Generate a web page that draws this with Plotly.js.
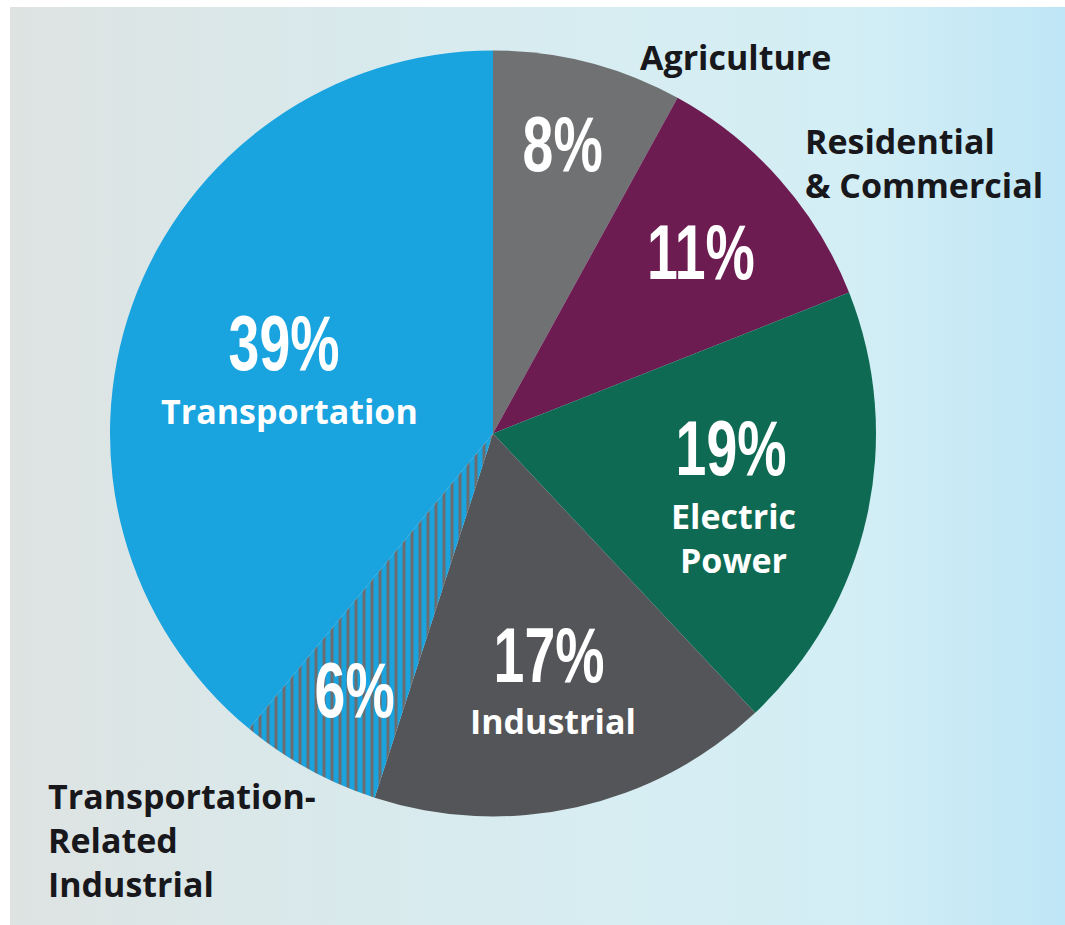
<!DOCTYPE html>
<html>
<head>
<meta charset="utf-8">
<script src="https://cdn.plot.ly/plotly-3.0.1.min.js"></script>
<style>
  html, body { margin: 0; padding: 0; background: #ffffff; width: 1065px; height: 925px; overflow: hidden; }
  #bg { position: absolute; left: 10px; top: 7px; right: 0; bottom: 0;
        background: linear-gradient(to right, #dee3e2 0%, #d9e9eb 30%, #d7edf2 55%, #d3eef5 80%, #bfe6f6 100%); }
  #chart { position: absolute; left: 0; top: 0; width: 1065px; height: 925px; }
  .condensed text { transform-box: fill-box; transform-origin: 50% 50%; transform: scaleX(0.72); }
</style>
</head>
<body>
<div id="bg"></div>
<div id="chart"></div>
<script>
// Data
const sectors = ["Agriculture", "Residential & Commercial", "Electric Power", "Industrial", "Transportation-Related Industrial", "Transportation"];
const shares = [8, 11, 19, 17, 6, 39];
const sliceColors = ["#707172", "#6d1c52", "#0e6a52", "#545558", "#19a3df", "#19a3df"];
const slicePatterns = ["", "", "", "", "|", ""];
const insideNames = ["", "", "Electric<br>Power", "Industrial", "", "Transportation"];
const outsideNames = ["Agriculture", "Residential<br>& Commercial", "", "", "Transportation-<br>Related<br>Industrial", ""];

const W = 1065, H = 925;
const px = v => v / W;
const py = v => 1 - v / H;

// positions of labels (pixels)
const pctPos = [[562, 144], [701, 252], [731, 448], [549, 655], [354, 690], [284, 343]];
const namePos = [null, null, [733, 538], [553, 721], null, [289, 411]];
const outsidePos = [[638, 57], [803, 163], null, null, [46, 840], null];

const pctFont = { family: "Liberation Sans, Arial, sans-serif", size: 77, color: "#ffffff", weight: 700 };
const nameFont = { family: "Open Sans, sans-serif", size: 34, color: "#ffffff", weight: 700 };
const outFont = { family: "Open Sans, sans-serif", size: 34, color: "#17171c", weight: 700 };

const annotations = [];
const pctIdx = [];
shares.forEach((v, i) => {
  pctIdx.push(annotations.length);
  annotations.push({
    text: v + "%", xref: "paper", yref: "paper",
    x: px(pctPos[i][0]), y: py(pctPos[i][1]),
    xanchor: "center", yanchor: "middle", showarrow: false, font: pctFont
  });
  if (namePos[i]) {
    annotations.push({
      text: insideNames[i], xref: "paper", yref: "paper",
      x: px(namePos[i][0]), y: py(namePos[i][1]),
      xanchor: "center", yanchor: "middle", showarrow: false, font: nameFont, align: "center"
    });
  }
  if (outsidePos[i]) {
    annotations.push({
      text: outsideNames[i], xref: "paper", yref: "paper",
      x: px(outsidePos[i][0]), y: py(outsidePos[i][1]),
      xanchor: "left", yanchor: "middle", showarrow: false, font: outFont, align: "left"
    });
  }
});

const trace = {
  type: "pie",
  labels: sectors,
  values: shares,
  sort: false,
  direction: "clockwise",
  rotation: 0,
  textinfo: "none",
  hoverinfo: "label+percent",
  showlegend: false,
  marker: {
    colors: sliceColors,
    line: { width: 0 },
    pattern: { shape: slicePatterns, fgcolor: "#6c6d70", bgcolor: sliceColors, size: 8, solidity: 0.38 }
  },
  domain: { x: [110 / W, 876 / W], y: [108.5 / H, 874.5 / H] }
};

const layout = {
  width: W, height: H,
  margin: { l: 0, r: 0, t: 0, b: 0 },
  paper_bgcolor: "rgba(0,0,0,0)",
  plot_bgcolor: "rgba(0,0,0,0)",
  showlegend: false,
  annotations: annotations
};

Plotly.newPlot("chart", [trace], layout, { displayModeBar: false, staticPlot: true }).then(gd => {
  pctIdx.forEach(idx => {
    const g = gd.querySelector('.annotation[data-index="' + idx + '"]');
    if (g) g.classList.add("condensed");
  });
});
</script>
</body>
</html>
